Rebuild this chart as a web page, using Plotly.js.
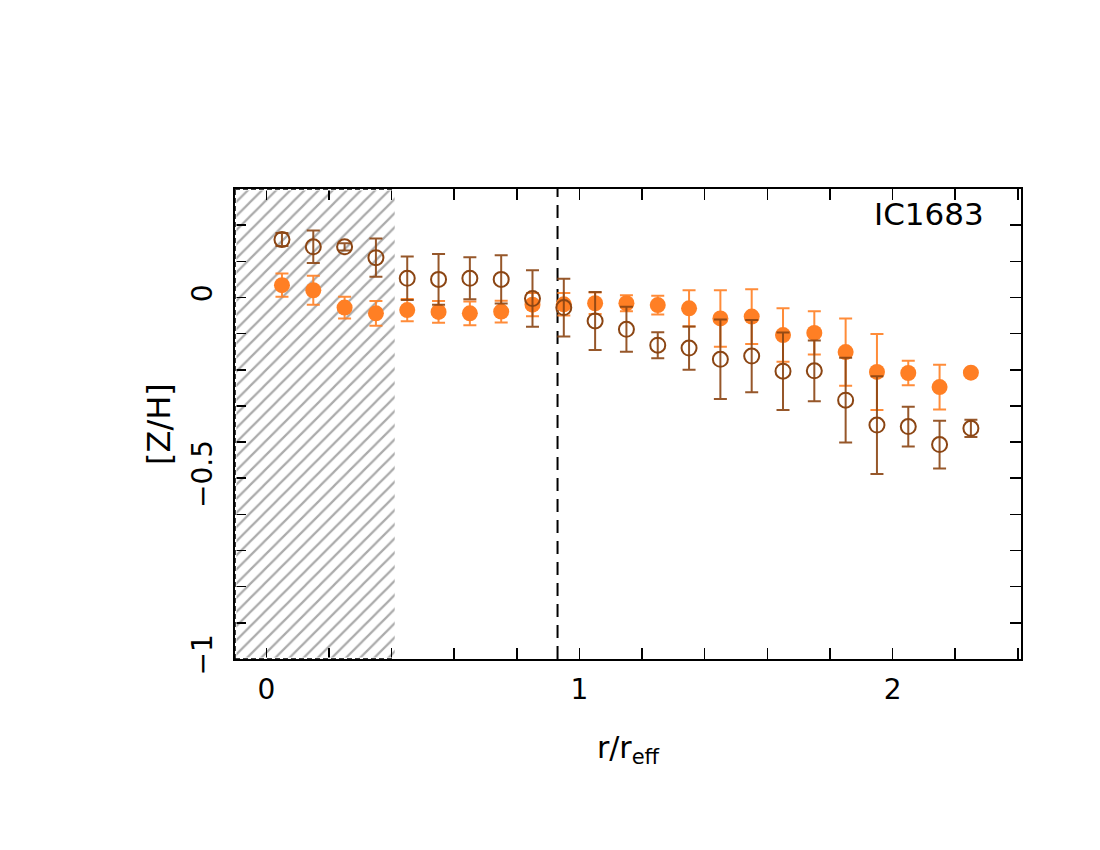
<!DOCTYPE html>
<html>
<head>
<meta charset="utf-8">
<script src="https://cdn.plot.ly/plotly-3.0.1.min.js"></script>
<style>
  html, body { margin: 0; padding: 0; background: #fff; }
  #chart { width: 1100px; height: 850px; }
</style>
</head>
<body>
<div id="chart"></div>
<script>
// radial bins (r / r_eff)
var rBins = [0.05, 0.15, 0.25, 0.35, 0.45, 0.55, 0.65, 0.75, 0.85, 0.95, 1.05, 1.15,
             1.25, 1.35, 1.45, 1.55, 1.65, 1.75, 1.85, 1.95, 2.05, 2.15, 2.25];

// filled orange points
var zhFilled = [0.034, 0.020, -0.028, -0.044, -0.035, -0.040, -0.044, -0.039, -0.020, -0.019, -0.016, -0.016,
                -0.021, -0.030, -0.058, -0.053, -0.104, -0.098, -0.151, -0.206, -0.209, -0.248, -0.208];
var errFilled = [0.032, 0.040, 0.030, 0.034, 0.031, 0.030, 0.033, 0.030, 0.032, 0.031, 0.030, 0.022,
                 0.026, 0.050, 0.078, 0.076, 0.074, 0.060, 0.093, 0.105, 0.034, 0.062, 0.005];

// open brown points
var zhOpen = [0.160, 0.140, 0.140, 0.110, 0.053, 0.050, 0.053, 0.050, -0.003, -0.028, -0.065, -0.088,
              -0.132, -0.140, -0.171, -0.162, -0.204, -0.203, -0.284, -0.353, -0.357, -0.407, -0.362];
var errOpen = [0.018, 0.045, 0.010, 0.053, 0.060, 0.070, 0.058, 0.067, 0.078, 0.080, 0.080, 0.062,
               0.036, 0.060, 0.110, 0.100, 0.107, 0.084, 0.117, 0.135, 0.055, 0.066, 0.024];

// hatched (excluded) inner region and the dashed reference radius
var hatchRange = [-0.1, 0.41];
var xRange = [-0.1, 2.41];
var yRange = [-1, 0.3];
var refRadius = 0.93;
var galaxyName = "IC1683";

var orange = "#ff7f24";
var brown = "#8b4513";
var font = "DejaVu Sans, Verdana, sans-serif";

var hatch = {
  x: [(hatchRange[0] + hatchRange[1]) / 2],
  y: [yRange[1] - yRange[0]],
  base: [yRange[0]],
  width: [hatchRange[1] - hatchRange[0]],
  type: "bar",
  marker: {
    color: "white",
    line: {width: 0},
    pattern: {shape: "/", fgcolor: "#ababab", bgcolor: "white", size: 10, solidity: 0.22}
  },
  hoverinfo: "skip",
  showlegend: false
};

var filled = {
  x: rBins,
  y: zhFilled,
  type: "scatter",
  mode: "markers",
  marker: {symbol: "circle", size: 16, color: orange},
  error_y: {type: "data", array: errFilled, visible: true, color: "rgba(255,127,36,0.9)", thickness: 2, width: 6.5},
  showlegend: false
};

var open = {
  x: rBins,
  y: zhOpen,
  type: "scatter",
  mode: "markers",
  marker: {symbol: "circle", size: 15, color: "rgba(0,0,0,0)", line: {color: brown, width: 2}},
  error_y: {type: "data", array: errOpen, visible: true, color: "rgba(139,69,19,0.9)", thickness: 2, width: 6.5},
  showlegend: false
};

// dashed outline of the hatched area along the frame (left, top, bottom)
function edge(x0, x1, y0, y1, color, width, dash) {
  return {type: "line", xref: "x", yref: "y", x0: x0, x1: x1, y0: y0, y1: y1,
          line: {color: color, width: width, dash: dash}, layer: "above"};
}
var hatchEdges = [];
[["white", 3, "solid"], ["black", 1.5, "5px,3px"]].forEach(function (s) {
  hatchEdges.push(edge(hatchRange[0], hatchRange[0], yRange[0], yRange[1], s[0], s[1], s[2]));
  hatchEdges.push(edge(hatchRange[0], hatchRange[1], yRange[1], yRange[1], s[0], s[1], s[2]));
  hatchEdges.push(edge(hatchRange[0], hatchRange[1], yRange[0], yRange[0], s[0], s[1], s[2]));
});

var layout = {
  width: 1100,
  height: 850,
  margin: {l: 235, r: 79, t: 189, b: 191},
  paper_bgcolor: "white",
  plot_bgcolor: "white",
  font: {family: font, size: 28, color: "black"},
  showlegend: false,
  xaxis: {
    range: xRange,
    tick0: 0, dtick: 1,
    ticks: "inside", ticklen: 11, tickwidth: 1.5, tickcolor: "black",
    minor: {dtick: 0.2, ticks: "inside", ticklen: 11, tickwidth: 1.5, tickcolor: "black"},
    showline: true, linecolor: "black", linewidth: 2, mirror: "ticks",
    showgrid: false, zeroline: false,
    ticklabelstandoff: 4,
    title: {text: "r/r<sub>eff</sub>", font: {size: 30}, standoff: 32}
  },
  yaxis: {
    range: yRange,
    tick0: 0, dtick: 0.5,
    tickangle: -90,
    ticks: "inside", ticklen: 11, tickwidth: 1.5, tickcolor: "black",
    minor: {dtick: 0.1, ticks: "inside", ticklen: 11, tickwidth: 1.5, tickcolor: "black"},
    showline: true, linecolor: "black", linewidth: 2, mirror: "ticks",
    showgrid: false, zeroline: false,
    ticklabelstandoff: 10,
    title: {text: "[Z/H]", font: {size: 32}, standoff: 6}
  },
  shapes: [
    {type: "line", xref: "x", yref: "y", x0: refRadius, x1: refRadius, y0: yRange[0], y1: yRange[1],
     line: {color: "black", width: 2, dash: "13px,8px"}, layer: "below"}
  ].concat(hatchEdges),
  annotations: [
    {text: galaxyName, xref: "paper", yref: "paper", x: 0.956, y: 0.947,
     xanchor: "right", yanchor: "middle", showarrow: false, font: {size: 31}}
  ]
};

Plotly.newPlot("chart", [hatch, filled, open], layout, {staticPlot: true});
</script>
</body>
</html>
